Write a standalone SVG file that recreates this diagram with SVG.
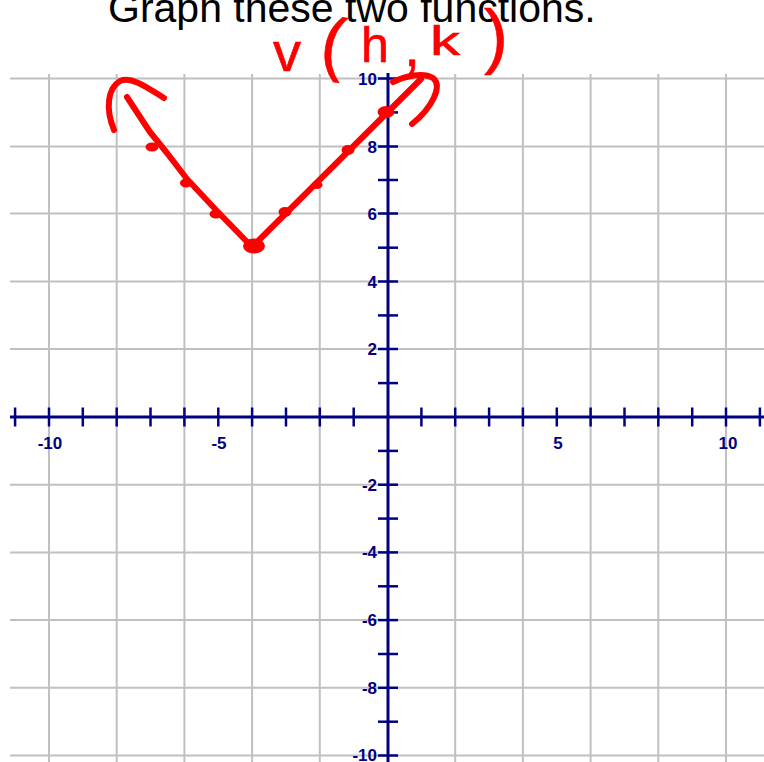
<svg xmlns="http://www.w3.org/2000/svg" width="764" height="762" viewBox="0 0 764 762">
<style>
.grid line{stroke:#c0c0c0;stroke-width:2}
.axis{stroke:#000080;stroke-width:3;fill:none}
.tick{stroke:#000080;stroke-width:2.5}
.lbl{font-family:"Liberation Sans",Arial,sans-serif;font-weight:bold;font-size:17px;fill:#000080}
.xl{text-anchor:middle}
.yl{text-anchor:end}
.ink{stroke:#ff0000;stroke-width:6;fill:none;stroke-linecap:round;stroke-linejoin:round}
.dot{fill:#ff0000}
.hw{font-family:"Liberation Sans",Arial,sans-serif;fill:#ff0000;stroke:#ff0000;stroke-width:0.6}
</style>
<rect width="764" height="762" fill="#ffffff"/>
<text x="108" y="22" font-family="Liberation Sans, Arial, sans-serif" font-size="41" fill="#000000">Graph these two functions.</text>
<g id="grid" class="grid">
<line x1="49" y1="74" x2="49" y2="762"/>
<line x1="116.7" y1="74" x2="116.7" y2="762"/>
<line x1="184.4" y1="74" x2="184.4" y2="762"/>
<line x1="252.1" y1="74" x2="252.1" y2="762"/>
<line x1="319.8" y1="74" x2="319.8" y2="762"/>
<line x1="455.2" y1="74" x2="455.2" y2="762"/>
<line x1="522.9" y1="74" x2="522.9" y2="762"/>
<line x1="590.6" y1="74" x2="590.6" y2="762"/>
<line x1="658.3" y1="74" x2="658.3" y2="762"/>
<line x1="726" y1="74" x2="726" y2="762"/>
<line x1="10" y1="78.5" x2="764" y2="78.5"/>
<line x1="10" y1="146.5" x2="764" y2="146.5"/>
<line x1="10" y1="213.5" x2="764" y2="213.5"/>
<line x1="10" y1="281.5" x2="764" y2="281.5"/>
<line x1="10" y1="349" x2="764" y2="349"/>
<line x1="10" y1="484.7" x2="764" y2="484.7"/>
<line x1="10" y1="552.4" x2="764" y2="552.4"/>
<line x1="10" y1="620.1" x2="764" y2="620.1"/>
<line x1="10" y1="687.8" x2="764" y2="687.8"/>
<line x1="10" y1="755.5" x2="764" y2="755.5"/>
</g>
<g id="axes">
<line class="axis" x1="10" y1="417" x2="764" y2="417"/>
<line class="axis" x1="388" y1="73" x2="388" y2="762"/>
<g class="tick">
<line x1="15.1" y1="407.5" x2="15.1" y2="426.5"/>
<line x1="49" y1="407.5" x2="49" y2="426.5"/>
<line x1="82.8" y1="407.5" x2="82.8" y2="426.5"/>
<line x1="116.7" y1="407.5" x2="116.7" y2="426.5"/>
<line x1="150.5" y1="407.5" x2="150.5" y2="426.5"/>
<line x1="184.4" y1="407.5" x2="184.4" y2="426.5"/>
<line x1="218.3" y1="407.5" x2="218.3" y2="426.5"/>
<line x1="252.1" y1="407.5" x2="252.1" y2="426.5"/>
<line x1="286" y1="407.5" x2="286" y2="426.5"/>
<line x1="319.8" y1="407.5" x2="319.8" y2="426.5"/>
<line x1="353.7" y1="407.5" x2="353.7" y2="426.5"/>
<line x1="421.4" y1="407.5" x2="421.4" y2="426.5"/>
<line x1="455.2" y1="407.5" x2="455.2" y2="426.5"/>
<line x1="489.1" y1="407.5" x2="489.1" y2="426.5"/>
<line x1="522.9" y1="407.5" x2="522.9" y2="426.5"/>
<line x1="556.8" y1="407.5" x2="556.8" y2="426.5"/>
<line x1="590.6" y1="407.5" x2="590.6" y2="426.5"/>
<line x1="624.5" y1="407.5" x2="624.5" y2="426.5"/>
<line x1="658.3" y1="407.5" x2="658.3" y2="426.5"/>
<line x1="692.2" y1="407.5" x2="692.2" y2="426.5"/>
<line x1="726" y1="407.5" x2="726" y2="426.5"/>
<line x1="759.9" y1="407.5" x2="759.9" y2="426.5"/>
<line x1="378" y1="78.5" x2="398" y2="78.5"/>
<line x1="378" y1="112.4" x2="398" y2="112.4"/>
<line x1="378" y1="146.5" x2="398" y2="146.5"/>
<line x1="378" y1="180" x2="398" y2="180"/>
<line x1="378" y1="213.5" x2="398" y2="213.5"/>
<line x1="378" y1="247.7" x2="398" y2="247.7"/>
<line x1="378" y1="281.5" x2="398" y2="281.5"/>
<line x1="378" y1="315.4" x2="398" y2="315.4"/>
<line x1="378" y1="349" x2="398" y2="349"/>
<line x1="378" y1="383.1" x2="398" y2="383.1"/>
<line x1="378" y1="450.9" x2="398" y2="450.9"/>
<line x1="378" y1="484.7" x2="398" y2="484.7"/>
<line x1="378" y1="518.6" x2="398" y2="518.6"/>
<line x1="378" y1="552.4" x2="398" y2="552.4"/>
<line x1="378" y1="586.3" x2="398" y2="586.3"/>
<line x1="378" y1="620.1" x2="398" y2="620.1"/>
<line x1="378" y1="654" x2="398" y2="654"/>
<line x1="378" y1="687.8" x2="398" y2="687.8"/>
<line x1="378" y1="721.7" x2="398" y2="721.7"/>
<line x1="378" y1="755.5" x2="398" y2="755.5"/>
</g>
<g class="lbl xl">
<text x="50" y="449">-10</text>
<text x="219" y="449">-5</text>
<text x="558" y="449">5</text>
<text x="728" y="449">10</text>
</g>
<g class="lbl yl">
<text x="377" y="85">10</text>
<text x="377" y="153">8</text>
<text x="377" y="219.5">6</text>
<text x="377" y="287.5">4</text>
<text x="377" y="355">2</text>
<text x="377" y="490.7">-2</text>
<text x="377" y="558.4">-4</text>
<text x="377" y="626.1">-6</text>
<text x="377" y="693.8">-8</text>
<text x="377" y="761">-10</text>
</g>
</g>
<g id="graph">
<path class="ink" d="M252,247 L217,211 L187,179 L167,153 L150,132 L142,120 L127,97"/>
<path class="ink" d="M252,247 L421,79"/>
<path class="ink" d="M114,130 C105,108 108,88 120,81 C132,76 148,88 164,98"/>
<path class="ink" d="M393,82 C405,76 423,72 433,78 C443,86 432,108 412,124"/>
<ellipse class="dot" cx="152" cy="147" rx="6.5" ry="4.5"/>
<ellipse class="dot" cx="186" cy="183" rx="6" ry="4.5"/>
<ellipse class="dot" cx="216" cy="214" rx="6.5" ry="4.5"/>
<ellipse class="dot" cx="254" cy="246" rx="11" ry="7.5"/>
<ellipse class="dot" cx="285" cy="212" rx="6.5" ry="5"/>
<ellipse class="dot" cx="317" cy="185" rx="5.5" ry="4"/>
<ellipse class="dot" cx="348" cy="150" rx="6.5" ry="5"/>
<ellipse class="dot" cx="386" cy="112" rx="8.5" ry="6"/>
</g>
<g id="label">
<text class="hw" x="273" y="71" font-size="56">v</text>
<text class="hw" x="321" y="67" font-size="70" transform="rotate(8 333 48)">(</text>
<text class="hw" x="361" y="62" font-size="50">h</text>
<text class="hw" x="404" y="66" font-size="58">,</text>
<text class="hw" x="430" y="55" font-size="40" transform="translate(430 55) scale(1.5 1) translate(-430 -55)">k</text>
<text class="hw" x="484" y="60" font-size="72">)</text>
</g>
</svg>
